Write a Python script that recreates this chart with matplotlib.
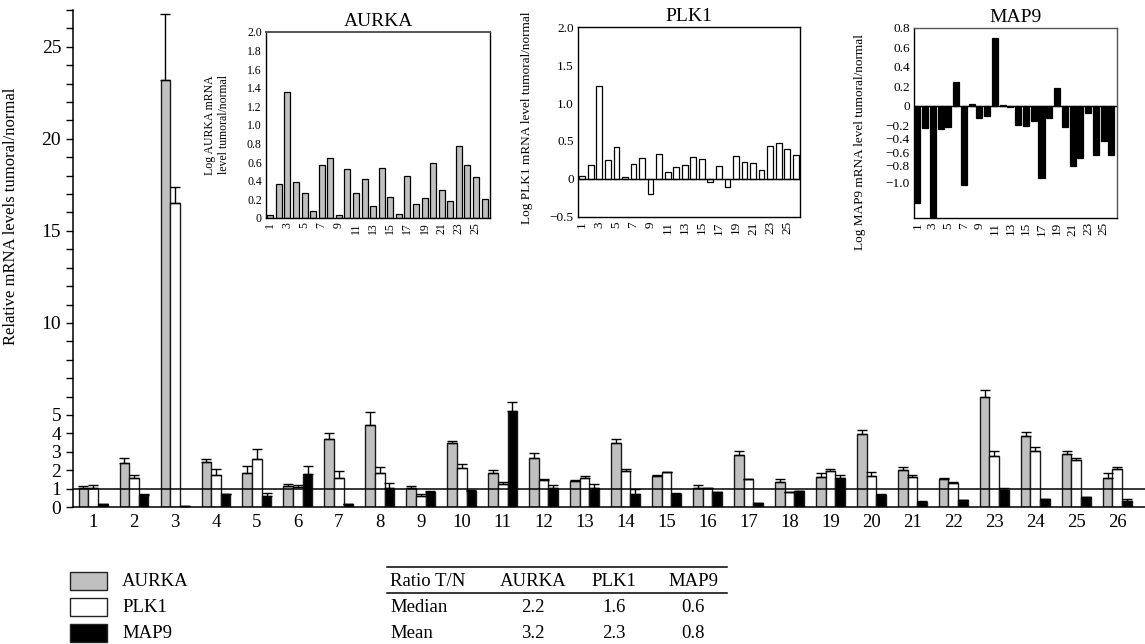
import numpy as np
import matplotlib
matplotlib.use("Agg")
import matplotlib.pyplot as plt
from matplotlib.patches import Rectangle
from matplotlib.lines import Line2D

plt.rcParams['font.family'] = ['Liberation Serif', 'DejaVu Serif']

samples = np.arange(1, 27)

# relative mRNA levels tumoral/normal (main panel)
aurka = [1.05, 2.40, 23.2, 2.47, 1.87, 1.16, 3.67, 4.44, 1.04, 3.45, 1.85, 2.64, 1.42,
         3.47, 1.69, 1.05, 2.85, 1.36, 1.62, 3.96, 2.02, 1.51, 5.96, 3.84, 2.87, 1.56]
aurka_sd = [0.10, 0.27, 3.6, 0.15, 0.38, 0.08, 0.33, 0.71, 0.12, 0.15, 0.15, 0.32, 0.03,
            0.22, 0.07, 0.15, 0.17, 0.15, 0.20, 0.22, 0.13, 0.05, 0.42, 0.21, 0.15, 0.26]
plk1 = [1.05, 1.56, 16.5, 1.76, 2.60, 1.09, 1.60, 1.84, 0.60, 2.13, 1.24, 1.45, 1.55,
        1.95, 1.89, 1.04, 1.51, 0.82, 1.93, 1.67, 1.64, 1.31, 2.76, 3.02, 2.53, 2.05]
plk1_sd = [0.15, 0.20, 0.9, 0.28, 0.53, 0.13, 0.33, 0.31, 0.11, 0.23, 0.12, 0.08, 0.14,
           0.12, 0.02, 0.01, 0.01, 0.01, 0.12, 0.22, 0.11, 0.05, 0.28, 0.22, 0.14, 0.15]
map9 = [0.15, 0.64, 0.05, 0.69, 0.62, 1.78, 0.18, 1.04, 0.80, 0.85, 5.24, 1.05, 1.05,
        0.69, 0.73, 0.80, 0.22, 0.85, 1.60, 0.67, 0.29, 0.36, 0.91, 0.42, 0.53, 0.35]
map9_sd = [0.0, 0.09, 0.0, 0.02, 0.16, 0.44, 0.01, 0.27, 0.07, 0.10, 0.46, 0.13, 0.20,
           0.31, 0.05, 0.04, 0.01, 0.04, 0.15, 0.04, 0.01, 0.01, 0.14, 0.01, 0.03, 0.09]

# log ratios (insets)
aurka_log = [0.03, 0.37, 1.35, 0.39, 0.27, 0.07, 0.565, 0.65, 0.03, 0.53, 0.265, 0.42, 0.125,
             0.54, 0.23, 0.047, 0.45, 0.147, 0.215, 0.587, 0.30, 0.18, 0.77, 0.57, 0.44, 0.20]
plk1_log = [0.035, 0.19, 1.22, 0.245, 0.42, 0.026, 0.20, 0.27, -0.20, 0.325, 0.097, 0.16, 0.185,
            0.29, 0.26, -0.035, 0.167, -0.105, 0.30, 0.23, 0.21, 0.12, 0.44, 0.48, 0.40, 0.32]
map9_log = [-1.22, -0.24, -1.40, -0.253, -0.223, 0.24, -1.02, 0.017, -0.127, -0.103, 0.70, 0.007, -0.01,
            -0.20, -0.209, -0.155, -0.94, -0.127, 0.18, -0.223, -0.81, -0.678, -0.072, -0.63, -0.429, -0.63]

genes = ['AURKA', 'PLK1', 'MAP9']
colors = ['#c0c0c0', 'white', 'black']
table_cols = ['Ratio T/N', 'AURKA', 'PLK1', 'MAP9']
table_rows = ['Median', 'Mean']
table_vals = [['2.2', '1.6', '0.6'], ['3.2', '2.3', '0.8']]

W, H = 1145, 644
fig = plt.figure(figsize=(W / 100, H / 100), dpi=100)


def box(x0, y0, x1, y1):
    return [x0 / W, 1 - y1 / H, (x1 - x0) / W, (y1 - y0) / H]


# ---- main panel
ax = fig.add_axes(box(73, 10, 1145, 507))
w = 0.235
for k, (vals, sd) in enumerate([(aurka, aurka_sd), (plk1, plk1_sd), (map9, map9_sd)]):
    ax.bar(samples + (k - 1) * w, vals, width=w, color=colors[k], edgecolor='#1a1a1a',
           linewidth=1.0, yerr=[np.zeros(26), sd], capsize=3.4,
           error_kw=dict(elinewidth=1.0, capthick=1.0, ecolor='black'), zorder=2)
ax.axhline(1, color='black', lw=1.1, zorder=3)
ax.set_xlim(0.51, 26.68)
ax.set_ylim(0, 27)
ax.set_xticks(samples)
ax.set_xticklabels([str(s) for s in samples], fontsize=13.5)
ax.tick_params(axis='x', length=0, pad=5)
ax.set_yticks([0, 1, 2, 3, 4, 5, 10, 15, 20, 25])
ax.set_yticklabels(['0', '1', '2', '3', '4', '5', '10', '15', '20', '25'], fontsize=14)
ax.set_yticks([v for v in range(6, 28) if v % 5 != 0], minor=True)
ax.tick_params(axis='y', which='both', length=5, width=1, direction='out')
for s in ['top', 'right']:
    ax.spines[s].set_visible(False)
ax.spines['left'].set_linewidth(1.1)
ax.spines['bottom'].set_linewidth(1.1)
ax.set_ylabel('Relative mRNA levels tumoral/normal', fontsize=12)
ax.yaxis.set_label_coords(-0.05, 0.585)

odd = list(range(1, 27, 2))


def inset(rect, vals, color, title, ylabel, width, xlim, fs):
    a = fig.add_axes(rect)
    a.bar(samples, vals, width=width, color=color, edgecolor='black', linewidth=0.9, zorder=2)
    a.set_xlim(*xlim)
    a.set_xticks(odd)
    a.set_xticklabels([str(o) for o in odd], rotation=90)
    a.tick_params(length=0, pad=3, labelsize=fs)
    a.set_title(title, fontsize=14, pad=4)
    a.set_ylabel(ylabel, fontsize=fs)
    for s in a.spines.values():
        s.set_linewidth(1.0)
    return a


# AURKA inset
a1 = inset(box(266, 32, 490, 218), aurka_log, '#c0c0c0', 'AURKA',
           'Log AURKA mRNA\nlevel tumoral/normal', 0.7, (0.5, 26.64), 8.5)
a1.set_ylim(0, 2.0)
a1.set_yticks(np.arange(0, 2.01, 0.2))
a1.set_yticklabels(['0'] + ['%.1f' % v for v in np.arange(0.2, 2.01, 0.2)])
a1.spines['top'].set_color('#555555')
a1.spines['top'].set_linewidth(1.4)
a1.yaxis.set_label_coords(-0.16, 0.5)

# PLK1 inset
a2 = inset(box(578, 27, 800, 217), plk1_log, 'white', 'PLK1',
           'Log PLK1 mRNA level tumoral/normal', 0.68, (0.5, 26.5), 9.5)
a2.set_ylim(-0.5, 2.0)
a2.set_yticks([-0.5, 0, 0.5, 1.0, 1.5, 2.0])
a2.set_yticklabels(['\u22120.5', '0', '0.5', '1.0', '1.5', '2.0'])
a2.axhline(0, color='black', lw=1.0, zorder=3)
a2.yaxis.set_label_coords(-0.203, 0.52)

# MAP9 inset: tick labels are unevenly spaced in the source figure
lab_pts = [-2.0, -1.0, -0.8, -0.6, -0.4, -0.2, 0.0, 0.8, 2.0]
pos_pts = [-1.722, -0.797, -0.612, -0.487, -0.34, -0.2, 0.0, 0.8, 2.0]
a3 = inset(box(914, 28, 1117, 218), map9_log, 'black', 'MAP9',
           'Log MAP9 mRNA level tumoral/normal', 0.78, (0.57, 26.73), 9.5)
a3.set_yscale('function', functions=(lambda v: np.interp(v, lab_pts, pos_pts),
                                     lambda p: np.interp(p, pos_pts, lab_pts)))
a3.set_ylim(-1.39, 0.8)
mt = [0.8, 0.6, 0.4, 0.2, 0, -0.2, -0.4, -0.6, -0.8, -1.0]
a3.set_yticks(mt)
a3.set_yticklabels(['0' if v == 0 else ('%.1f' % v).replace('-', '\u2212') for v in mt])
a3.yaxis.set_minor_locator(matplotlib.ticker.NullLocator())
a3.axhline(0, color='black', lw=1.0, zorder=3)
a3.spines['top'].set_color('#555555')
a3.spines['right'].set_color('#555555')
a3.yaxis.set_label_coords(-0.236, 0.4)

# ---- legend
rows_y = [581, 607, 633]
for g, c, yy in zip(genes, colors, rows_y):
    fig.add_artist(Rectangle((70 / W, 1 - (yy + 9) / H), 37 / W, 18 / H, facecolor=c,
                             edgecolor='#222222', lw=1.0, transform=fig.transFigure))
    fig.text(122 / W, 1 - yy / H, g, fontsize=13.5, va='center', ha='left')

# ---- summary table
for yy in [567, 593]:
    fig.add_artist(Line2D([387 / W, 727 / W], [1 - yy / H, 1 - yy / H], color='black',
                          lw=1.1, transform=fig.transFigure))
col_x = [390, 533, 614, 693]
for j, name in enumerate(table_cols):
    fig.text(col_x[j] / W, 1 - rows_y[0] / H, name, fontsize=13.5,
             va='center', ha='left' if j == 0 else 'center')
for i, rname in enumerate(table_rows):
    fig.text(col_x[0] / W, 1 - rows_y[i + 1] / H, rname, fontsize=13.5, va='center', ha='left')
    for j, v in enumerate(table_vals[i]):
        fig.text(col_x[j + 1] / W, 1 - rows_y[i + 1] / H, v, fontsize=13.5,
                 va='center', ha='center')

fig.savefig('out.png', dpi=100)
